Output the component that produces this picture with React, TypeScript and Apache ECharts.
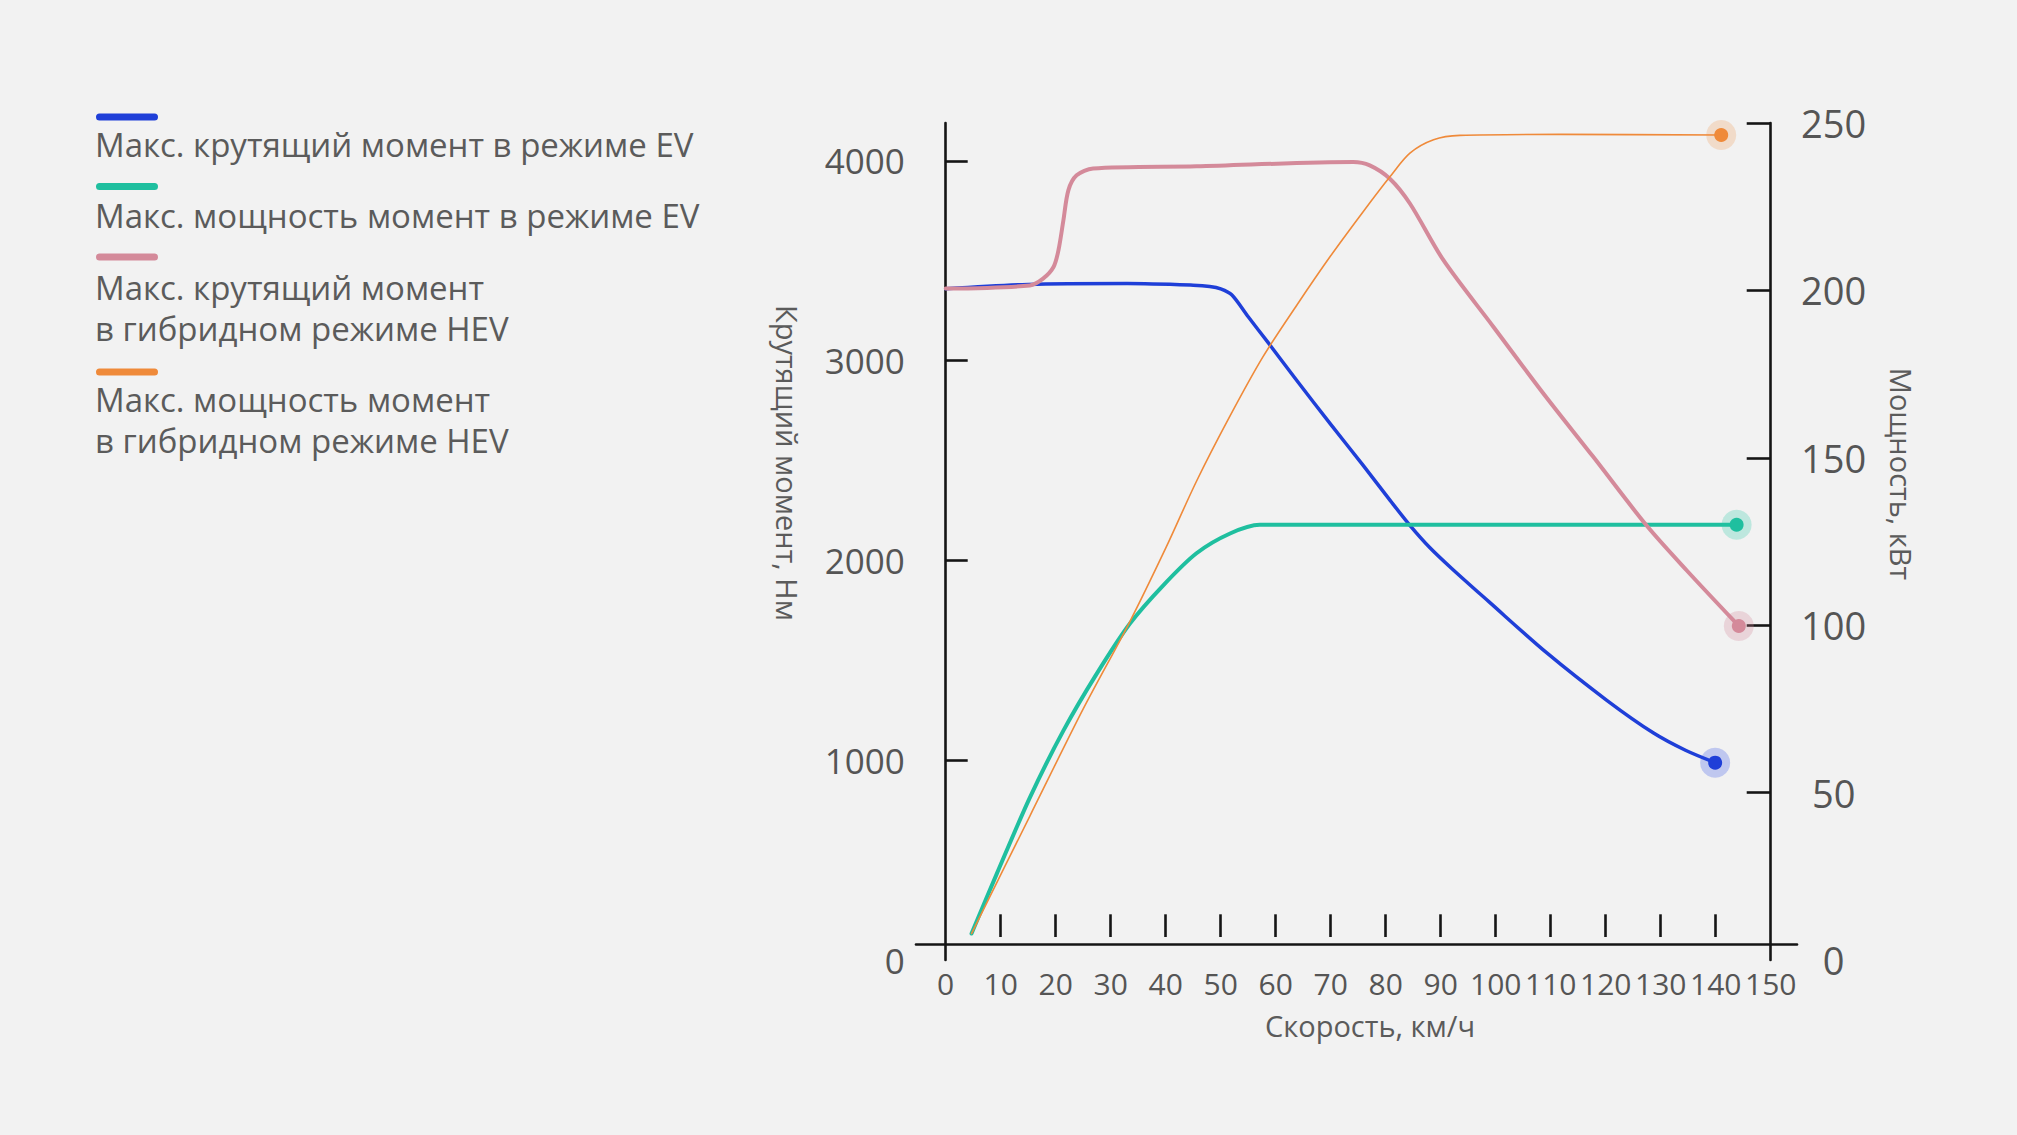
import React, { useEffect, useRef } from "react";
import * as echarts from "echarts";

// ---- tick labels ----
const speedLabels = [0, 10, 20, 30, 40, 50, 60, 70, 80, 90, 100, 110, 120, 130, 140, 150];
const speedInnerTicks = [10, 20, 30, 40, 50, 60, 70, 80, 90, 100, 110, 120, 130, 140];
const torqueLabels = [0, 1000, 2000, 3000, 4000];
const torqueTicks = [1000, 2000, 3000, 4000];
const powerLabels = [0, 50, 100, 150, 200, 250];
const powerTicks = [50, 100, 150, 200, 250];

// ---- series names ----
const seriesNames = [
  "Макс. крутящий момент в режиме EV",
  "Макс. мощность момент в режиме EV",
  "Макс. крутящий момент в гибридном режиме HEV",
  "Макс. мощность момент в гибридном режиме HEV",
];
const legendLabels = [
  "Макс. крутящий момент в режиме EV",
  "Макс. мощность момент в режиме EV",
  "Макс. крутящий момент\nв гибридном режиме HEV",
  "Макс. мощность момент\nв гибридном режиме HEV",
];

// ---- data (speed km/h, value) ----
const torqueEvSpeed = [0, 15, 33, 45, 48, 50, 52, 55, 58.7, 63.8, 69.9, 75.9, 80.8, 84.4, 88, 92, 98.7, 109.3, 120.2, 128.7, 134.5, 139.9];
const torqueEvValue = [3360, 3382, 3386, 3378, 3372, 3360, 3330, 3220, 3088, 2902, 2685, 2476, 2301, 2176, 2065, 1960, 1795, 1537, 1300, 1136, 1050, 988];

const powerEvSpeed = [4.7, 9.3, 15.3, 21.4, 27.5, 33.5, 39.6, 45.6, 51.7, 57.1, 80, 110, 143.8];
const powerEvValue = [7.9, 25.8, 48.5, 68.5, 85.6, 100.5, 112, 121.5, 127.4, 130, 130, 130, 130];

const torqueHevSpeed = [0, 15.3, 17.7, 19.6, 20.5, 21.4, 22.3, 23.8, 26.8, 45.6, 74.1, 77.1, 80.8, 84.4, 90.5, 99.6, 108.7, 117.7, 127.4, 134.7, 144.2];
const torqueHevValue = [3361, 3377, 3411, 3469, 3553, 3703, 3853, 3928, 3962, 3973, 3995, 3978, 3910, 3787, 3503, 3169, 2835, 2520, 2176, 1951, 1672];

const powerHevSpeed = [4.7, 15.3, 25, 33.4, 40, 45.6, 51.7, 57.7, 63.8, 69.9, 75.9, 80.8, 84.4, 88.7, 93.5, 111.7, 141];
const powerHevValue = [7.9, 43, 75, 100.8, 123, 143, 162.5, 180.2, 195.5, 210.1, 223.5, 234, 241, 245, 246.3, 246.6, 246.4];

const colors = ["#1f3fd8", "#1fbf9f", "#d48a9a", "#ef8a3a"];
const haloColors = [
  "rgba(40,70,230,0.25)",
  "rgba(30,200,165,0.25)",
  "rgba(212,138,154,0.28)",
  "rgba(240,150,80,0.25)",
];

const FONT = "'Open Sans', 'Noto Sans', sans-serif";

function zip(xs: number[], ys: number[]) {
  return xs.map((x, i) => [x, ys[i]]);
}

export default function App() {
  const ref = useRef<HTMLDivElement>(null);

  useEffect(() => {
    document.body.style.margin = "0";
    document.body.style.background = "#f2f2f2";
    if (!ref.current) return;
    const chart = echarts.init(ref.current, undefined, { renderer: "svg" });

    // layout
    const gridLeft = 916;
    const gridRightPx = 1797;
    const gridTop = 123;
    const gridBottomPx = 960;
    const xMin = -5.4;
    const xMax = 154.78;
    const pxPerUnit = (gridRightPx - gridLeft) / (xMax - xMin);
    const x0 = gridLeft + (0 - xMin) * pxPerUnit;
    const x150 = gridLeft + (150 - xMin) * pxPerUnit;
    const leftOffset = gridLeft - x0;
    const rightOffset = x150 - gridRightPx;
    const torqueMax = 4190;

    const datasets = [
      { s: torqueEvSpeed, v: torqueEvValue, y: 0, w: 3.5, z: 2 },
      { s: powerEvSpeed, v: powerEvValue, y: 1, w: 4, z: 3 },
      { s: torqueHevSpeed, v: torqueHevValue, y: 0, w: 4, z: 4 },
      { s: powerHevSpeed, v: powerHevValue, y: 1, w: 1.6, z: 5 },
    ];

    const series = datasets.map((d, i) => {
      const data = zip(d.s, d.v);
      const last = data[data.length - 1];
      return {
        name: seriesNames[i],
        type: "line",
        xAxisIndex: 0,
        yAxisIndex: d.y,
        data,
        smooth: 0.3,
        symbol: "none",
        z: d.z,
        lineStyle: { color: colors[i], width: d.w, cap: "round", join: "round" },
        itemStyle: { color: colors[i] },
        markPoint: {
          silent: true,
          symbol: "circle",
          label: { show: false },
          data: [
            { coord: last, symbolSize: 30, itemStyle: { color: haloColors[i] } },
            { coord: last, symbolSize: 14, itemStyle: { color: colors[i] } },
          ],
        },
      };
    });

    const legendBarY = [117, 186.5, 257, 372];
    const legendTextTop = [123.5, 194.5, 266.5, 378.5];
    const legendGraphics: any[] = [];
    legendLabels.forEach((label, i) => {
      legendGraphics.push({
        type: "rect",
        shape: { x: 96, y: legendBarY[i] - 3.5, width: 62, height: 7, r: 3.5 },
        style: { fill: colors[i] },
      });
      legendGraphics.push({
        type: "text",
        x: 95,
        y: legendTextTop[i],
        style: {
          text: label,
          fill: "#5b5b5b",
          fontSize: 33,
          fontFamily: FONT,
          lineHeight: 41,
          textAlign: "left",
          align: "left",
          textVerticalAlign: "top",
          verticalAlign: "top",
        },
      });
    });

    const axisTitleStyle = {
      fill: "#5b5b5b",
      fontSize: 29,
      fontFamily: FONT,
      textAlign: "center",
      align: "center",
      textVerticalAlign: "middle",
      verticalAlign: "middle",
    };

    const plain = (v: number) => String(v);

    const option: any = {
      animation: false,
      backgroundColor: "#f2f2f2",
      grid: {
        left: gridLeft,
        right: 2017 - gridRightPx,
        top: gridTop,
        bottom: 1135 - gridBottomPx,
        containLabel: false,
      },
      xAxis: [
        {
          type: "value",
          min: xMin,
          max: xMax,
          position: "bottom",
          offset: -15.4,
          axisLine: { show: true, onZero: false, lineStyle: { color: "#151515", width: 2.6 } },
          axisTick: { show: false },
          splitLine: { show: false },
          axisLabel: {
            customValues: speedLabels,
            formatter: plain,
            margin: 24,
            fontSize: 30,
            color: "#555555",
            fontFamily: FONT,
          },
        },
        {
          type: "value",
          min: xMin,
          max: xMax,
          position: "bottom",
          offset: -23,
          axisLine: { show: false, onZero: false },
          axisLabel: { show: false },
          splitLine: { show: false },
          axisTick: {
            show: true,
            inside: true,
            length: 22.7,
            customValues: speedInnerTicks,
            lineStyle: { color: "#151515", width: 2.6 },
          },
        },
      ],
      yAxis: [
        {
          type: "value",
          min: 0,
          max: torqueMax,
          position: "left",
          offset: leftOffset,
          axisLine: { show: true, onZero: false, lineStyle: { color: "#151515", width: 2.6 } },
          axisTick: {
            show: true,
            inside: true,
            length: 22,
            customValues: torqueTicks,
            lineStyle: { color: "#151515", width: 2.6 },
          },
          splitLine: { show: false },
          axisLabel: {
            customValues: torqueLabels,
            formatter: plain,
            margin: 41,
            fontSize: 35,
            color: "#555555",
            fontFamily: FONT,
          },
        },
        {
          type: "value",
          min: 0,
          max: 250,
          position: "right",
          offset: rightOffset,
          axisLine: { show: true, onZero: false, lineStyle: { color: "#151515", width: 2.6 } },
          axisTick: {
            show: true,
            inside: true,
            length: 24,
            customValues: powerTicks,
            lineStyle: { color: "#151515", width: 2.6 },
          },
          splitLine: { show: false },
          axisLabel: {
            customValues: powerLabels,
            formatter: plain,
            margin: 63,
            align: "center",
            fontSize: 38,
            color: "#555555",
            fontFamily: FONT,
          },
        },
      ],
      series,
      graphic: [
        ...legendGraphics,
        {
          type: "text",
          x: 787,
          y: 463,
          rotation: -Math.PI / 2,
          style: { ...axisTitleStyle, text: "Крутящий момент, Нм", x: 0, y: 0 },
        },
        {
          type: "text",
          x: 1901,
          y: 474,
          rotation: -Math.PI / 2,
          style: { ...axisTitleStyle, text: "Мощность, кВт", x: 0, y: 0 },
        },
        {
          type: "text",
          x: 1370,
          y: 1025,
          style: { ...axisTitleStyle, text: "Скорость, км/ч", x: 0, y: 0 },
        },
      ],
    };

    chart.setOption(option);
    return () => chart.dispose();
  }, []);

  return <div ref={ref} style={{ width: 2017, height: 1135 }} />;
}
